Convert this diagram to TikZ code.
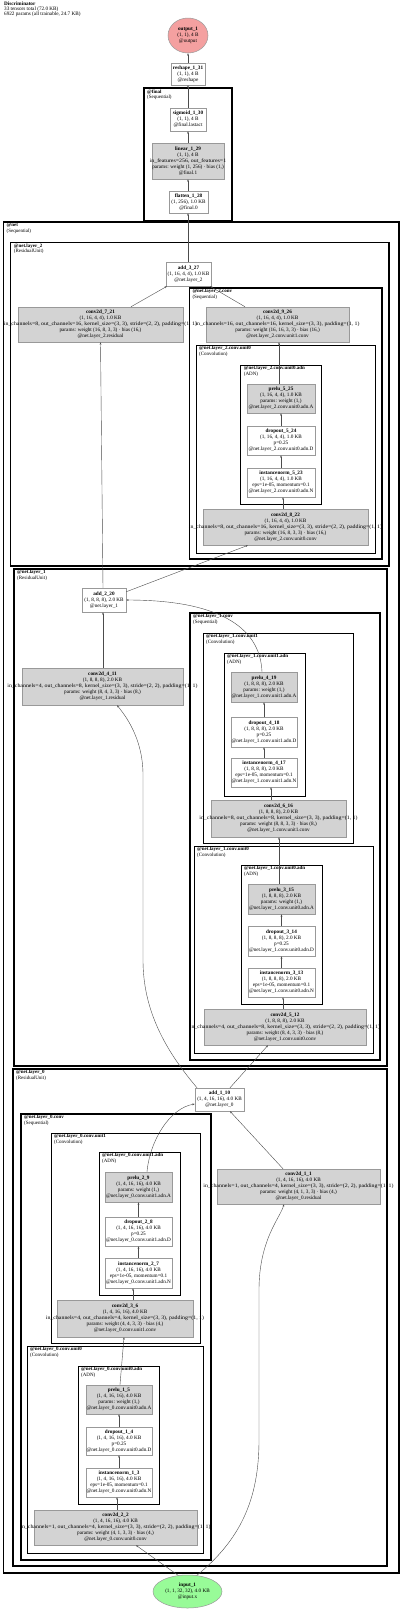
\documentclass[tikz,border=0pt]{standalone}
\usepackage{fontspec}
\usepackage{graphicx}
\setmainfont{Liberation Serif}
\usetikzlibrary{shapes.geometric,arrows.meta}
\newcommand\ml[1]{\makebox[0pt]{#1}}
\newcommand\wl[1]{\makebox[0pt]{\scalebox{1.13}[1]{#1}}}
\definecolor{boxgray}{HTML}{D3D3D3}
\definecolor{linegray}{HTML}{999999}
\definecolor{outred}{HTML}{F4A0A0}
\definecolor{ingreen}{HTML}{98FB98}
\tikzset{
 nd/.style={draw=linegray, line width=0.5pt, inner sep=0pt, align=center, font=\fontsize{5.2}{6.1}\selectfont},
 gbox/.style={nd, rectangle, fill=boxgray},
 wbox/.style={nd, rectangle, fill=white},
 ell/.style={nd, ellipse},
 clus/.style={draw=black, line width=1pt},
 clusmid/.style={draw=black, line width=1.25pt},
 clusthick/.style={draw=black, line width=1.6pt},
 clab/.style={anchor=north west, inner sep=0pt, align=left, font=\fontsize{5}{5.2}\selectfont},
 edge/.style={draw=black!70, line width=0.4pt, -{Stealth[length=2.4pt,width=1.8pt]}},
}
\newcommand\bx[7]{\node[#1, minimum width=#5pt, minimum height=#6pt] (#2) at (#3,#4) {#7};}
\newcommand\cl[7]{\draw[#1] (#2,#3) rectangle (#4,#5); \node[clab] (#6) at (#2+3,#3+1.3) {#7};}
\begin{document}
\begin{tikzpicture}[x=1pt,y=-1pt]
\useasboundingbox (0,0) rectangle (400,1610);
\fill[white] (0,0) rectangle (400,1610);

\node[anchor=north west, inner sep=0pt, align=left, font=\fontsize{5.2}{5.2}\selectfont] (title) at (4,1.5) {\textbf{Discriminator}\\33 tensors total (72.0 KB)\\6922 params (all trainable, 24.7 KB)};

% clusters
\cl{clusthick}{144}{88}{232}{221}{lfinal}{\textbf{@final}\\(Sequential)}
\cl{clusthick}{3.5}{222}{399}{1573}{lnet}{\textbf{@net}\\(Sequential)}
\cl{clusmid}{10.7}{242.7}{389}{566}{ll2}{\textbf{@net.layer\_2}\\(ResidualUnit)}
\cl{clusmid}{189.3}{288}{382}{559}{ll2c}{\textbf{@net.layer\_2.conv}\\(Sequential)}
\cl{clus}{196}{345}{375}{553}{ll2cu0}{\textbf{@net.layer\_2.conv.unit0}\\(Convolution)}
\cl{clus}{240.7}{365}{321}{504}{ll2cu0a}{\textbf{@net.layer\_2.conv.unit0.adn}\\(ADN)}
\cl{clusmid}{14}{569}{387}{1066}{ll1}{\textbf{@net.layer\_1}\\(ResidualUnit)}
\cl{clusmid}{190}{613}{380}{1060}{ll1c}{\textbf{@net.layer\_1.conv}\\(Sequential)}
\cl{clus}{203}{633}{353}{843}{ll1cu1}{\textbf{@net.layer\_1.conv.unit1}\\(Convolution)}
\cl{clus}{224}{653}{305}{796}{ll1cu1a}{\textbf{@net.layer\_1.conv.unit1.adn}\\(ADN)}
\cl{clus}{194}{846}{373}{1053}{ll1cu0}{\textbf{@net.layer\_1.conv.unit0}\\(Convolution)}
\cl{clus}{241}{865}{322}{1004}{ll1cu0a}{\textbf{@net.layer\_1.conv.unit0.adn}\\(ADN)}
\cl{clusmid}{13}{1069}{387}{1566}{ll0}{\textbf{@net.layer\_0}\\(ResidualUnit)}
\cl{clusmid}{21}{1114}{211}{1560}{ll0c}{\textbf{@net.layer\_0.conv}\\(Sequential)}
\cl{clus}{51}{1133}{200}{1343}{ll0cu1}{\textbf{@net.layer\_0.conv.unit1}\\(Convolution)}
\cl{clus}{99}{1152}{180}{1295}{ll0cu1a}{\textbf{@net.layer\_0.conv.unit1.adn}\\(ADN)}
\cl{clus}{27}{1346}{203}{1553}{ll0cu0}{\textbf{@net.layer\_0.conv.unit0}\\(Convolution)}
\cl{clus}{78}{1366}{159}{1504}{ll0cu0a}{\textbf{@net.layer\_0.conv.unit0.adn}\\(ADN)}

% nodes
\bx{ell, fill=outred}{out1}{188}{35.5}{40}{35}{\ml{\textbf{output\_1}}\\\ml{(1, 1), 4 B}\\\ml{@output}}
\bx{wbox}{rs}{188}{74}{34}{22}{\ml{\textbf{reshape\_1\_31}}\\\ml{(1, 1), 4 B}\\\ml{@reshape}}
\bx{wbox}{sg}{188}{119.5}{36}{23}{\ml{\textbf{sigmoid\_1\_30}}\\\ml{(1, 1), 4 B}\\\ml{@final.lastact}}
\bx{gbox}{lin}{188}{161}{72}{36}{\ml{\textbf{linear\_1\_29}}\\\ml{(1, 1), 4 B}\\\wl{in\_features=256, out\_features=1}\\\ml{params: weight (1, 256) · bias (1,)}\\\ml{@final.1}}
\bx{wbox}{fl}{188.5}{202}{39}{22}{\ml{\textbf{flatten\_1\_28}}\\\ml{(1, 256), 1.0 KB}\\\ml{@final.0}}
\bx{wbox}{a327}{188.5}{274}{45}{24}{\ml{\textbf{add\_3\_27}}\\\ml{(1, 16, 4, 4), 1.0 KB}\\\ml{@net.layer\_2}}
\bx{gbox}{c721}{100.5}{324.5}{165}{35}{\ml{\textbf{conv2d\_7\_21}}\\\ml{(1, 16, 4, 4), 1.0 KB}\\\wl{in\_channels=8, out\_channels=16, kernel\_size=(3, 3), stride=(2, 2), padding=(1, 1)}\\\ml{params: weight (16, 8, 3, 3) · bias (16,)}\\\ml{@net.layer\_2.residual}}
\bx{gbox}{c926}{277.5}{324.5}{143}{35}{\ml{\textbf{conv2d\_9\_26}}\\\ml{(1, 16, 4, 4), 1.0 KB}\\\wl{in\_channels=16, out\_channels=16, kernel\_size=(3, 3), padding=(1, 1)}\\\ml{params: weight (16, 16, 3, 3) · bias (16,)}\\\ml{@net.layer\_2.conv.unit1.conv}}
\bx{gbox}{p525}{281}{398.5}{68}{29}{\ml{\textbf{prelu\_5\_25}}\\\ml{(1, 16, 4, 4), 1.0 KB}\\\ml{params: weight (1,)}\\\ml{@net.layer\_2.conv.unit0.adn.A}}
\bx{wbox}{d524}{281}{440.5}{68}{29}{\ml{\textbf{dropout\_5\_24}}\\\ml{(1, 16, 4, 4), 1.0 KB}\\\ml{p=0.25}\\\ml{@net.layer\_2.conv.unit0.adn.D}}
\bx{wbox}{i523}{281}{482.5}{68}{29}{\ml{\textbf{instancenorm\_5\_23}}\\\ml{(1, 16, 4, 4), 1.0 KB}\\\ml{eps=1e-05, momentum=0.1}\\\ml{@net.layer\_2.conv.unit0.adn.N}}
\bx{gbox}{c822}{285.5}{527}{165}{36}{\ml{\textbf{conv2d\_8\_22}}\\\ml{(1, 16, 4, 4), 1.0 KB}\\\wl{in\_channels=8, out\_channels=16, kernel\_size=(3, 3), stride=(2, 2), padding=(1, 1)}\\\ml{params: weight (16, 8, 3, 3) · bias (16,)}\\\ml{@net.layer\_2.conv.unit0.conv}}
\bx{wbox}{a220}{104}{600}{44}{24}{\ml{\textbf{add\_2\_20}}\\\ml{(1, 8, 8, 8), 2.0 KB}\\\ml{@net.layer\_1}}
\bx{gbox}{c411}{102.5}{686.5}{161}{37}{\ml{\textbf{conv2d\_4\_11}}\\\ml{(1, 8, 8, 8), 2.0 KB}\\\wl{in\_channels=4, out\_channels=8, kernel\_size=(3, 3), stride=(2, 2), padding=(1, 1)}\\\ml{params: weight (8, 4, 3, 3) · bias (8,)}\\\ml{@net.layer\_1.residual}}
\bx{gbox}{p419}{264}{687}{66}{30}{\ml{\textbf{prelu\_4\_19}}\\\ml{(1, 8, 8, 8), 2.0 KB}\\\ml{params: weight (1,)}\\\ml{@net.layer\_1.conv.unit1.adn.A}}
\bx{wbox}{d418}{264}{732}{66}{30}{\ml{\textbf{dropout\_4\_18}}\\\ml{(1, 8, 8, 8), 2.0 KB}\\\ml{p=0.25}\\\ml{@net.layer\_1.conv.unit1.adn.D}}
\bx{wbox}{i417}{264}{772.5}{66}{29}{\ml{\textbf{instancenorm\_4\_17}}\\\ml{(1, 8, 8, 8), 2.0 KB}\\\ml{eps=1e-05, momentum=0.1}\\\ml{@net.layer\_1.conv.unit1.adn.N}}
\bx{gbox}{c616}{278.5}{818.5}{135}{37}{\ml{\textbf{conv2d\_6\_16}}\\\ml{(1, 8, 8, 8), 2.0 KB}\\\wl{in\_channels=8, out\_channels=8, kernel\_size=(3, 3), padding=(1, 1)}\\\ml{params: weight (8, 8, 3, 3) · bias (8,)}\\\ml{@net.layer\_1.conv.unit1.conv}}
\bx{gbox}{p315}{281.5}{899}{67}{30}{\ml{\textbf{prelu\_3\_15}}\\\ml{(1, 8, 8, 8), 2.0 KB}\\\ml{params: weight (1,)}\\\ml{@net.layer\_1.conv.unit0.adn.A}}
\bx{wbox}{d314}{281.5}{941}{67}{30}{\ml{\textbf{dropout\_3\_14}}\\\ml{(1, 8, 8, 8), 2.0 KB}\\\ml{p=0.25}\\\ml{@net.layer\_1.conv.unit0.adn.D}}
\bx{wbox}{i313}{281.5}{982.5}{67}{29}{\ml{\textbf{instancenorm\_3\_13}}\\\ml{(1, 8, 8, 8), 2.0 KB}\\\ml{eps=1e-05, momentum=0.1}\\\ml{@net.layer\_1.conv.unit0.adn.N}}
\bx{gbox}{c512}{285}{1027}{162}{36}{\ml{\textbf{conv2d\_5\_12}}\\\ml{(1, 8, 8, 8), 2.0 KB}\\\wl{in\_channels=4, out\_channels=8, kernel\_size=(3, 3), stride=(2, 2), padding=(1, 1)}\\\ml{params: weight (8, 4, 3, 3) · bias (8,)}\\\ml{@net.layer\_1.conv.unit0.conv}}
\bx{wbox}{a110}{219.5}{1099.5}{49}{23}{\ml{\textbf{add\_1\_10}}\\\ml{(1, 4, 16, 16), 4.0 KB}\\\ml{@net.layer\_0}}
\bx{gbox}{c11}{298.5}{1186.5}{163}{35}{\ml{\textbf{conv2d\_1\_1}}\\\ml{(1, 4, 16, 16), 4.0 KB}\\\wl{in\_channels=1, out\_channels=4, kernel\_size=(3, 3), stride=(2, 2), padding=(1, 1)}\\\ml{params: weight (4, 1, 3, 3) · bias (4,)}\\\ml{@net.layer\_0.residual}}
\bx{gbox}{p29}{138.5}{1187}{67}{30}{\ml{\textbf{prelu\_2\_9}}\\\ml{(1, 4, 16, 16), 4.0 KB}\\\ml{params: weight (1,)}\\\ml{@net.layer\_0.conv.unit1.adn.A}}
\bx{wbox}{d28}{138.5}{1231.5}{67}{29}{\ml{\textbf{dropout\_2\_8}}\\\ml{(1, 4, 16, 16), 4.0 KB}\\\ml{p=0.25}\\\ml{@net.layer\_0.conv.unit1.adn.D}}
\bx{wbox}{i27}{138.5}{1273}{67}{30}{\ml{\textbf{instancenorm\_2\_7}}\\\ml{(1, 4, 16, 16), 4.0 KB}\\\ml{eps=1e-05, momentum=0.1}\\\ml{@net.layer\_0.conv.unit1.adn.N}}
\bx{gbox}{c36}{125}{1318.5}{136}{37}{\ml{\textbf{conv2d\_3\_6}}\\\ml{(1, 4, 16, 16), 4.0 KB}\\\wl{in\_channels=4, out\_channels=4, kernel\_size=(3, 3), padding=(1, 1)}\\\ml{params: weight (4, 4, 3, 3) · bias (4,)}\\\ml{@net.layer\_0.conv.unit1.conv}}
\bx{gbox}{p15}{119}{1399.5}{66}{29}{\ml{\textbf{prelu\_1\_5}}\\\ml{(1, 4, 16, 16), 4.0 KB}\\\ml{params: weight (1,)}\\\ml{@net.layer\_0.conv.unit0.adn.A}}
\bx{wbox}{d14}{119}{1441}{66}{28}{\ml{\textbf{dropout\_1\_4}}\\\ml{(1, 4, 16, 16), 4.0 KB}\\\ml{p=0.25}\\\ml{@net.layer\_0.conv.unit0.adn.D}}
\bx{wbox}{i13}{119}{1482.5}{66}{29}{\ml{\textbf{instancenorm\_1\_3}}\\\ml{(1, 4, 16, 16), 4.0 KB}\\\ml{eps=1e-05, momentum=0.1}\\\ml{@net.layer\_0.conv.unit0.adn.N}}
\bx{gbox}{c22}{115.5}{1527.5}{163}{35}{\ml{\textbf{conv2d\_2\_2}}\\\ml{(1, 4, 16, 16), 4.0 KB}\\\wl{in\_channels=1, out\_channels=4, kernel\_size=(3, 3), stride=(2, 2), padding=(1, 1)}\\\ml{params: weight (4, 1, 3, 3) · bias (4,)}\\\ml{@net.layer\_0.conv.unit0.conv}}
\bx{ell, fill=ingreen}{in1}{187.5}{1591.5}{69}{33}{\ml{\textbf{input\_1}}\\\ml{(1, 1, 32, 32), 4.0 KB}\\\ml{@input.x}}

% edges
\draw[edge] (rs.north) -- (out1.south);
\draw[edge] (sg.north) -- (rs.south);
\draw[edge] (lin.north) -- (sg.south);
\draw[edge] ([xshift=-0.5pt]fl.north) -- (lin.south);
\draw[edge] ([xshift=-0.5pt]a327.north) -- ([xshift=-0.5pt]fl.south);
\draw[edge] ([xshift=30.5pt]c721.north) -- ([xshift=-21.5pt]a327.south);
\draw[edge] ([xshift=-32.5pt]c926.north) -- ([xshift=21.5pt]a327.south);
\draw[edge] ([xshift=-2pt]p525.north) -- ([xshift=1.5pt]c926.south);
\draw[edge] (d524.north) -- (p525.south);
\draw[edge] (i523.north) -- (d524.south);
\draw[edge] ([xshift=-2.5pt]c822.north) -- ([xshift=2pt]i523.south);
\draw[edge] ([xshift=-1pt]a220.north) -- (c721.south);
\draw[edge] ([yshift=-4pt]a220.north east) -- ([xshift=-37.5pt]c822.south);
\draw[edge] ([xshift=0.5pt]c411.north) -- ([xshift=-1pt]a220.south);
\draw[edge] ([xshift=-2pt]p419.north) .. controls (260,625) and (215,600) .. (a220.east);
\draw[edge] (d418.north) -- (p419.south);
\draw[edge] (i417.north) -- (d418.south);
\draw[edge] ([xshift=-7.5pt]c616.north) -- ([xshift=7pt]i417.south);
\draw[edge] ([xshift=-2.5pt]p315.north) -- ([xshift=0.5pt]c616.south);
\draw[edge] (d314.north) -- (p315.south);
\draw[edge] (i313.north) -- (d314.south);
\draw[edge] ([xshift=-2pt]c512.north) -- ([xshift=1.5pt]i313.south);
\draw[edge] ([xshift=-22.5pt]a110.north) .. controls (165,1050) and (143,1010) .. (143,960) -- (143,775) .. controls (143,738) and (125,715) .. ([xshift=14.5pt]c411.south);
\draw[edge] ([xshift=10.5pt]a110.north) -- ([xshift=-17pt]c512.south);
\draw[edge] ([xshift=8.5pt]p29.north) .. controls (150,1140) and (170,1108) .. ([yshift=-4.5pt]a110.west);
\draw[edge] (d28.north) -- (p29.south);
\draw[edge] (i27.north) -- (d28.south);
\draw[edge] ([xshift=8pt]c36.north) -- ([xshift=-5.5pt]i27.south);
\draw[edge] ([xshift=1pt]p15.north) -- ([xshift=-1pt]c36.south);
\draw[edge] (d14.north) -- (p15.south);
\draw[edge] (i13.north) -- (d14.south);
\draw[edge] ([xshift=1.5pt]c22.north) -- ([xshift=-2pt]i13.south);
\draw[edge] ([xshift=-15.5pt]c11.north) -- ([xshift=10.5pt]a110.south);
\draw[edge] (in1.120) -- ([xshift=20.5pt]c22.south);
\draw[edge] (in1.60) .. controls (240,1540) and (259,1500) .. (259,1440) -- (259,1290) .. controls (259,1240) and (280,1218) .. ([xshift=-14.5pt]c11.south);
\end{tikzpicture}
\end{document}
